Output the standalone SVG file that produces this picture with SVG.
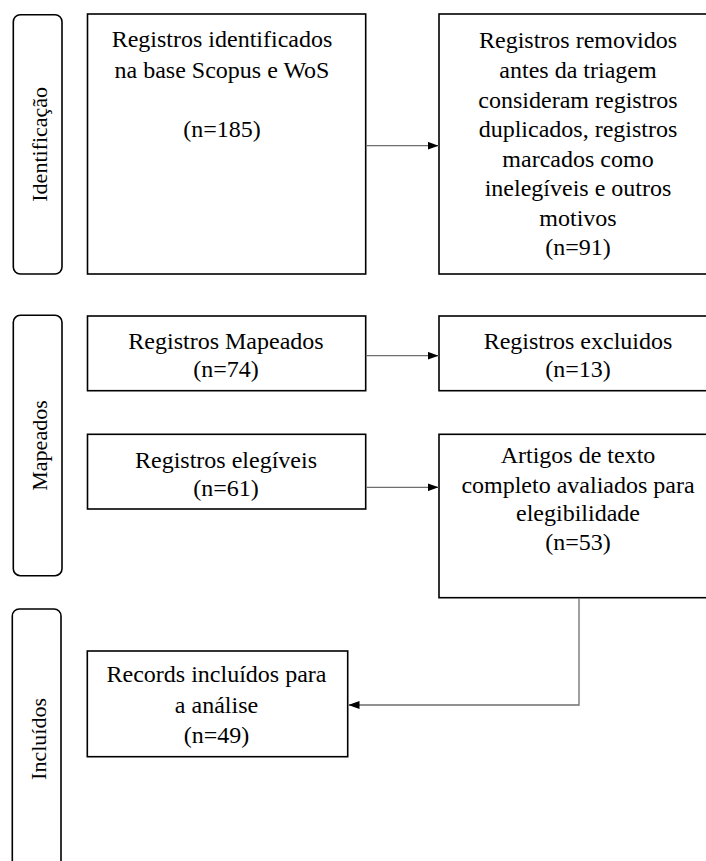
<svg xmlns="http://www.w3.org/2000/svg" width="706" height="861" viewBox="0 0 706 861">
<style>
.box{fill:#fff;stroke:#000;stroke-width:1.6}
.lane{fill:#fff;stroke:#000;stroke-width:1.6}
text{font-family:'Liberation Serif','Times New Roman',Tinos,'DejaVu Serif',serif;fill:#000;text-anchor:middle}
.t{font-size:24px}
.v{font-size:22px}
.c{fill:none;stroke:#6e6e6e;stroke-width:1.3}
</style>
<defs>
<marker id="ah" markerWidth="11" markerHeight="8" refX="11" refY="4" orient="auto" markerUnits="userSpaceOnUse">
<path d="M0,0 L11,4 L0,8 Z" fill="#000"/>
</marker>
</defs>
<g id="lane-identificacao">
<rect class="lane" x="13.3" y="14.7" width="48.7" height="259.3" rx="7"/>
<text class="v" font-family="Liberation Serif, serif" transform="translate(46.5,144.3) rotate(-90)">Identificação</text>
</g>
<g id="lane-mapeados">
<rect class="lane" x="13.3" y="315.3" width="48.7" height="260.4" rx="7"/>
<text class="v" transform="translate(46.5,445.5) rotate(-90)">Mapeados</text>
</g>
<g id="lane-incluidos">
<rect class="lane" x="12.3" y="609" width="48.7" height="280" rx="7"/>
<text class="v" transform="translate(45.5,739) rotate(-90)">Incluídos</text>
</g>
<g id="n-identificados">
<rect class="box" x="87.5" y="14" width="278.2" height="260"/>
<text class="t" x="222" y="47">Registros identificados</text>
<text class="t" x="222" y="78">na base Scopus e WoS</text>
<text class="t" x="222" y="137">(n=185)</text>
</g>
<g id="n-removidos">
<rect class="box" x="439" y="14" width="290" height="260"/>
<text class="t" x="578" y="48">Registros removidos</text>
<text class="t" x="578" y="78">antes da triagem</text>
<text class="t" x="578" y="107.5">consideram registros</text>
<text class="t" x="578" y="137">duplicados, registros</text>
<text class="t" x="578" y="166.5">marcados como</text>
<text class="t" x="578" y="196">inelegíveis e outros</text>
<text class="t" x="578" y="225.5">motivos</text>
<text class="t" x="578" y="255">(n=91)</text>
</g>
<g id="n-mapeados">
<rect class="box" x="87.5" y="316" width="278.2" height="74.7"/>
<text class="t" x="226" y="349">Registros Mapeados</text>
<text class="t" x="226" y="377">(n=74)</text>
</g>
<g id="n-excluidos">
<rect class="box" x="439" y="316" width="290" height="74.7"/>
<text class="t" x="578" y="349">Registros excluidos</text>
<text class="t" x="578" y="377">(n=13)</text>
</g>
<g id="n-elegiveis">
<rect class="box" x="87.5" y="434.3" width="278.2" height="74.7"/>
<text class="t" x="226" y="468">Registros elegíveis</text>
<text class="t" x="226" y="496">(n=61)</text>
</g>
<g id="n-artigos">
<rect class="box" x="439" y="434.3" width="290" height="163.4"/>
<text class="t" x="578" y="463">Artigos de texto</text>
<text class="t" x="578" y="492.5">completo avaliados para</text>
<text class="t" x="578" y="521">elegibilidade</text>
<text class="t" x="578" y="550">(n=53)</text>
</g>
<g id="n-incluidos">
<rect class="box" x="87.3" y="651" width="260.4" height="105.7"/>
<text class="t" x="216.5" y="682">Records incluídos para</text>
<text class="t" x="216.5" y="712.5">a análise</text>
<text class="t" x="216.5" y="742.5">(n=49)</text>
</g>
<g id="connectors">
<line class="c" x1="366.5" y1="145.7" x2="438.5" y2="145.7" marker-end="url(#ah)"/>
<line class="c" x1="366.5" y1="355.7" x2="438.5" y2="355.7" marker-end="url(#ah)"/>
<line class="c" x1="366.5" y1="487.3" x2="438.5" y2="487.3" marker-end="url(#ah)"/>
<polyline class="c" points="579,598.5 579,705 348.5,705" marker-end="url(#ah)"/>
</g>
</svg>
